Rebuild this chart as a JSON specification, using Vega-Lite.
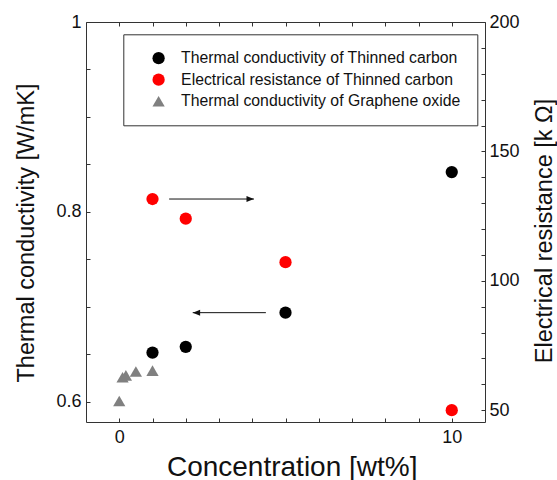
{
  "$schema": "https://vega.github.io/schema/vega-lite/v6.json",
  "width": 399,
  "height": 400,
  "autosize": {"type": "none"},
  "padding": {"left": 86, "top": 22, "right": 72, "bottom": 58},
  "background": "white",
  "config": {
    "view": {"stroke": "#333", "strokeWidth": 1},
    "font": "Liberation Sans",
    "axis": {
      "domain": false,
      "grid": false,
      "tickSize": -4,
      "tickColor": "#333",
      "tickWidth": 1,
      "labelFont": "Liberation Sans",
      "labelFontSize": 18,
      "labelColor": "#111",
      "titleFont": "Liberation Sans",
      "titleFontWeight": "normal",
      "titleColor": "#111",
      "labelOverlap": false,
      "labelFlush": false
    },
    "legend": {
      "orient": "none", "legendX": 37.3, "legendY": 12.3, "title": null,
      "padding": 16, "strokeColor": "#333", "fillColor": "white",
      "labelFont": "Liberation Sans", "labelFontSize": 15.8, "labelColor": "#111",
      "symbolSize": 150, "rowPadding": 4.5, "labelOffset": 14.6, "symbolOffset": 11.4,
      "labelLimit": 400
    }
  },
  "datasets": {
    "pts": [
      {"series": "Thermal conductivity of Thinned carbon", "conc": 1, "value": 0.652},
      {"series": "Thermal conductivity of Thinned carbon", "conc": 2, "value": 0.658},
      {"series": "Thermal conductivity of Thinned carbon", "conc": 5, "value": 0.694},
      {"series": "Thermal conductivity of Thinned carbon", "conc": 10, "value": 0.842},
      {"series": "Thermal conductivity of Graphene oxide", "conc": 0, "value": 0.601},
      {"series": "Thermal conductivity of Graphene oxide", "conc": 0.1, "value": 0.626},
      {"series": "Thermal conductivity of Graphene oxide", "conc": 0.2, "value": 0.628},
      {"series": "Thermal conductivity of Graphene oxide", "conc": 0.5, "value": 0.632},
      {"series": "Thermal conductivity of Graphene oxide", "conc": 1, "value": 0.633},
      {"series": "Electrical resistance of Thinned carbon", "conc": 1, "value": 131.6},
      {"series": "Electrical resistance of Thinned carbon", "conc": 2, "value": 124.0},
      {"series": "Electrical resistance of Thinned carbon", "conc": 5, "value": 107.2},
      {"series": "Electrical resistance of Thinned carbon", "conc": 10, "value": 50.0}
    ],
    "arrows": [
      {"side": "left", "conc": 2.21, "conc2": 4.41, "value": 0.694},
      {"side": "right", "conc": 4.05, "conc2": 1.5, "value": 131.6}
    ]
  },
  "layer": [
    {
      "encoding": {
        "x": {
          "field": "conc", "type": "quantitative",
          "scale": {"domain": [-1, 11], "nice": false, "zero": false},
          "axis": {
            "orient": "bottom",
            "values": [0, 1, 2, 3, 4, 5, 6, 7, 8, 9, 10],
            "labelExpr": "datum.value == 0 ? '0' : (datum.value == 10 ? '10' : '')",
            "labelPadding": 10,
            "title": "Concentration [wt%]",
            "titleFontSize": 28,
            "titleX": 205.7,
            "titleY": 53,
            "titleBaseline": "alphabetic",
            "titleAlign": "center"
          }
        },
        "y": {
          "field": "value", "type": "quantitative",
          "scale": {"domain": [0.5789, 1.0], "nice": false, "zero": false},
          "axis": {
            "orient": "left",
            "values": [0.6, 0.65, 0.7, 0.75, 0.8, 0.85, 0.9, 0.95, 1.0],
            "labelExpr": "abs(datum.value - 0.6) < 0.001 ? '0.6' : (abs(datum.value - 0.8) < 0.001 ? '0.8' : (abs(datum.value - 1) < 0.001 ? '1' : ''))",
            "labelPadding": 9,
            "title": "Thermal conductivity [W/mK]",
            "titleFontSize": 23.5,
            "titleAngle": 270,
            "titleX": -53,
            "titleY": 210.5,
            "titleBaseline": "alphabetic",
            "titleAlign": "center"
          }
        }
      },
      "layer": [
        {
          "data": {"name": "pts"},
          "transform": [{"filter": "datum.series != 'Electrical resistance of Thinned carbon'"}],
          "mark": {"type": "point", "filled": true, "opacity": 1, "size": 150, "strokeWidth": 0},
          "encoding": {
            "color": {
              "field": "series", "type": "nominal",
              "scale": {
                "domain": ["Thermal conductivity of Thinned carbon", "Electrical resistance of Thinned carbon", "Thermal conductivity of Graphene oxide"],
                "range": ["#000000", "#ff0000", "#808080"]
              }
            },
            "shape": {
              "field": "series", "type": "nominal",
              "scale": {
                "domain": ["Thermal conductivity of Thinned carbon", "Electrical resistance of Thinned carbon", "Thermal conductivity of Graphene oxide"],
                "range": ["circle", "circle", "triangle-up"]
              }
            }
          }
        },
        {
          "data": {"name": "arrows"},
          "transform": [{"filter": "datum.side == 'left'"}],
          "mark": {"type": "rule", "color": "#111", "strokeWidth": 1},
          "encoding": {"x2": {"field": "conc2"}}
        },
        {
          "data": {"name": "arrows"},
          "transform": [{"filter": "datum.side == 'left'"}],
          "mark": {"type": "point", "shape": "M0,0L2,-0.8L2,0.8Z", "filled": true, "color": "#111", "size": 55, "opacity": 1, "strokeWidth": 0},
          "encoding": {}
        }
      ]
    },
    {
      "encoding": {
        "x": {
          "field": "conc", "type": "quantitative",
          "scale": {"domain": [-1, 11], "nice": false, "zero": false},
          "axis": {
            "orient": "top",
            "values": [0, 1, 2, 3, 4, 5, 6, 7, 8, 9, 10],
            "labels": false,
            "title": null
          }
        },
        "y": {
          "field": "value", "type": "quantitative",
          "scale": {"domain": [45.44, 200], "nice": false, "zero": false},
          "axis": {
            "orient": "right",
            "values": [50, 60, 70, 80, 90, 100, 110, 120, 130, 140, 150, 160, 170, 180, 190, 200],
            "labelExpr": "datum.value % 50 == 0 ? datum.label : ''",
            "labelPadding": 8,
            "title": "Electrical resistance [k Ω]",
            "titleFontSize": 23.5,
            "titleAngle": 270,
            "titleX": 66,
            "titleY": 208.5,
            "titleBaseline": "alphabetic",
            "titleAlign": "center"
          }
        }
      },
      "layer": [
        {
          "data": {"name": "pts"},
          "transform": [{"filter": "datum.series == 'Electrical resistance of Thinned carbon'"}],
          "mark": {"type": "point", "filled": true, "opacity": 1, "size": 150, "strokeWidth": 0},
          "encoding": {
            "color": {"field": "series", "type": "nominal"},
            "shape": {"field": "series", "type": "nominal"}
          }
        },
        {
          "data": {"name": "arrows"},
          "transform": [{"filter": "datum.side == 'right'"}],
          "mark": {"type": "rule", "color": "#111", "strokeWidth": 1},
          "encoding": {"x2": {"field": "conc2"}}
        },
        {
          "data": {"name": "arrows"},
          "transform": [{"filter": "datum.side == 'right'"}],
          "mark": {"type": "point", "shape": "M0,0L-2,-0.8L-2,0.8Z", "filled": true, "color": "#111", "size": 55, "opacity": 1, "strokeWidth": 0},
          "encoding": {}
        }
      ]
    }
  ],
  "resolve": {"scale": {"y": "independent"}, "axis": {"x": "independent"}}
}
